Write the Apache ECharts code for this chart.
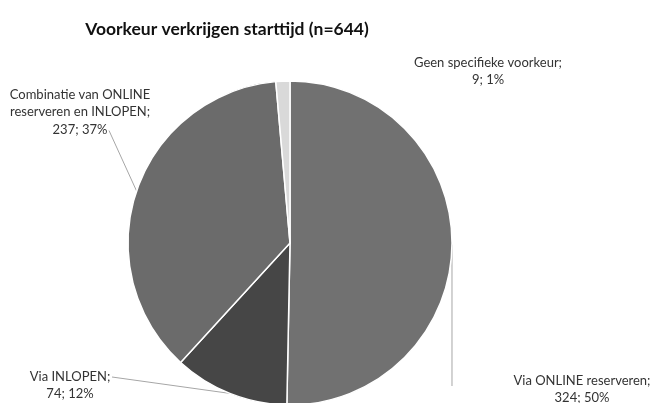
<!DOCTYPE html>
<html>
<head>
<meta charset="utf-8">
<script src="https://cdn.jsdelivr.net/npm/echarts@6/dist/echarts.min.js"></script>
<style>
  html, body { margin: 0; padding: 0; background: #fff; }
  #chart { width: 651px; height: 403px; }
</style>
</head>
<body>
<div id="chart"></div>
<script>
// Data
const names = [
  'Via ONLINE reserveren',
  'Via INLOPEN',
  'Combinatie van ONLINE\nreserveren en INLOPEN',
  'Geen specifieke voorkeur'
]
const values = [324, 74, 237, 9]
const pctLabels = ['50%', '12%', '37%', '1%']
const colors = ['#717171', '#464646', '#6b6b6b', '#d9d9d9']

// where each label sits (text center x, top y) and how its leader runs
const labelPos = [
  { x: 582, y: 372, lineEnd: 'down' },
  { x: 70, y: 368, lineEnd: 'right' },
  { x: 80, y: 86, lineEnd: 'right' },
  { x: 488, y: 54, lineEnd: null }
]

const chart = echarts.init(document.getElementById('chart'))

const data = names.map((n, i) => ({
  name: n,
  value: values[i],
  itemStyle: { color: colors[i] },
  labelLine: { show: labelPos[i].lineEnd !== null }
}))

const option = {
  animation: false,
  title: {
    text: 'Voorkeur verkrijgen starttijd (n=644)',
    left: 222,
    top: 15,
    textAlign: 'center',
    textStyle: {
      fontFamily: 'Lato',
      fontSize: 17.5,
      fontWeight: 'bold',
      color: '#111'
    }
  },
  series: [
    {
      type: 'pie',
      center: [290, 243],
      radius: 162,
      startAngle: 90,
      clockwise: true,
      data: data,
      itemStyle: { borderColor: '#fff', borderWidth: 1.5 },
      label: {
        show: true,
        position: 'outside',
        formatter: p => p.name + ';\n' + p.value + '; ' + pctLabels[p.dataIndex],
        fontFamily: 'Lato',
        fontSize: 13,
        lineHeight: 17.5,
        color: '#333',
        align: 'center',
        overflow: 'none'
      },
      labelLine: {
        show: true,
        lineStyle: { color: '#a6a6a6', width: 1 }
      },
      labelLayout: function (params) {
        const lp = labelPos[params.dataIndex]
        const res = { x: lp.x, y: lp.y, align: 'center', verticalAlign: 'top' }
        const pts = params.labelLinePoints
        if (pts && lp.lineEnd) {
          const edge = pts[0]
          const h = params.labelRect.height
          if (lp.lineEnd === 'down') {
            res.labelLinePoints = [edge, [edge[0], lp.y + 14], [edge[0], lp.y + 14]]
          } else if (params.dataIndex === 2) {
            res.labelLinePoints = [edge, [lp.x + 29, lp.y + h - 8], [lp.x + 29, lp.y + h - 8]]
          } else {
            res.labelLinePoints = [edge, [lp.x + 42, lp.y + 9], [lp.x + 42, lp.y + 9]]
          }
        }
        return res
      }
    }
  ]
}

chart.setOption(option)
</script>
</body>
</html>
